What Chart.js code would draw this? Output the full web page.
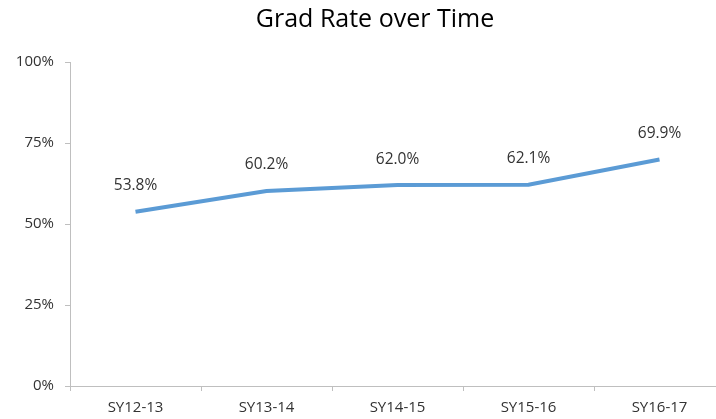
<!DOCTYPE html>
<html>
<head>
    <title>Grad Rate over Time</title>
    <script src="https://cdn.jsdelivr.net/npm/chart.js"></script>
    <style>
        html, body { margin: 0; padding: 0; background: #fff; overflow: hidden; }
        #wrap { width: 750px; height: 419px; }
    </style>
</head>
<body>
    <div id="wrap"><canvas id="grafico" width="750" height="419"></canvas></div>
    <script>
        // datos
        const years = ['SY12-13', 'SY13-14', 'SY14-15', 'SY15-16', 'SY16-17'];
        const gradRate = [53.8, 60.2, 62.0, 62.1, 69.9];
        const yTicks = [0, 25, 50, 75, 100];

        const fontFam = '"Open Sans", "Noto Sans", sans-serif';

        // titulo y etiquetas de datos
        const extras = {
            id: 'extras',
            afterDraw(chart) {
                const ctx = chart.ctx;
                ctx.save();
                ctx.fillStyle = '#000';
                ctx.font = '25px ' + fontFam;
                ctx.textAlign = 'center';
                ctx.textBaseline = 'middle';
                ctx.fillText('Grad Rate over Time', 375, 20);

                ctx.fillStyle = '#333';
                ctx.font = '15.5px ' + fontFam;
                const meta = chart.getDatasetMeta(0);
                meta.data.forEach((pt, i) => {
                    ctx.fillText(gradRate[i].toFixed(1) + '%', pt.x, pt.y - 26);
                });
                ctx.restore();
            }
        };

        new Chart(document.getElementById('grafico'), {
            type: 'line',
            data: {
                labels: years,
                datasets: [{
                    data: gradRate,
                    borderColor: '#5B9BD5',
                    borderWidth: 4,
                    pointRadius: 0,
                    tension: 0,
                    fill: false
                }]
            },
            options: {
                responsive: false,
                animation: false,
                layout: { padding: { top: 62, right: 25, left: 0, bottom: 0 } },
                plugins: {
                    legend: { display: false },
                    title: { display: false },
                    tooltip: { enabled: false }
                },
                scales: {
                    x: {
                        offset: true,
                        grid: {
                            offset: true,
                            drawOnChartArea: false,
                            tickLength: 5,
                            color: '#BFBFBF'
                        },
                        border: { color: '#BFBFBF', width: 1 },
                        ticks: {
                            color: '#333',
                            font: { family: fontFam, size: 15 },
                            padding: 8,
                            maxRotation: 0
                        },
                        afterFit(scale) { scale.height = 33; }
                    },
                    y: {
                        min: 0,
                        max: 100,
                        afterBuildTicks(scale) {
                            scale.ticks = yTicks.map(v => ({ value: v }));
                        },
                        grid: {
                            drawOnChartArea: false,
                            tickLength: 5,
                            color: '#BFBFBF'
                        },
                        border: { color: '#BFBFBF', width: 1 },
                        ticks: {
                            color: '#333',
                            font: { family: fontFam, size: 15 },
                            padding: 11,
                            callback: v => v + '%'
                        },
                        afterFit(scale) { scale.width = 70; }
                    }
                }
            },
            plugins: [extras]
        });
    </script>
</body>
</html>
